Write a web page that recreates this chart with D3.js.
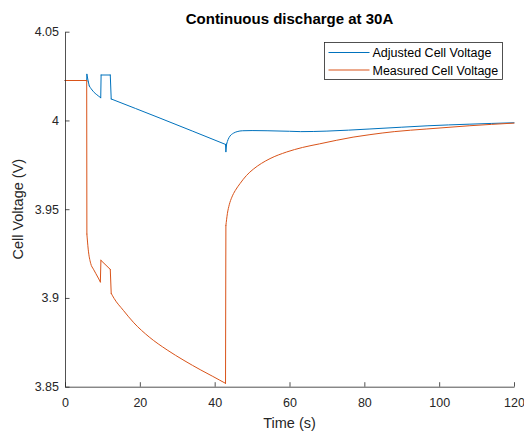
<!DOCTYPE html>
<html><head><meta charset="utf-8">
<script src="https://cdn.jsdelivr.net/npm/d3@7"></script>
<style>body{margin:0;background:#fff;}svg{display:block;font-family:"Liberation Sans",Arial,sans-serif;}</style>
</head><body><svg id="c" width="524" height="433"></svg>
<script>
const title = "Continuous discharge at 30A";
const xLabel = "Time (s)";
const yLabel = "Cell Voltage (V)";
const seriesNames = ["Adjusted Cell Voltage", "Measured Cell Voltage"];
const seriesColors = ["#0072BD", "#D95319"];
const xTicks = [0, 20, 40, 60, 80, 100, 120];
const yTicks = [3.85, 3.9, 3.95, 4, 4.05];
const adjustedTime = [0, 5.8, 5.85, 6.2, 6.5, 7.0, 7.6, 8.5, 9.55, 9.65, 12.1, 12.35, 25.4, 42.9, 43.0, 43.2, 43.6, 44.1, 45, 46, 47.5, 50, 54, 60, 63, 70, 81.5, 90, 97, 108, 120];
const adjustedV = [4.0225, 4.0225, 4.026, 4.022, 4.0194, 4.0178, 4.0162, 4.0145, 4.0128, 4.0256, 4.0256, 4.0121, 4.0013, 3.9865, 3.9824, 3.9868, 3.9893, 3.9912, 3.9928, 3.9937, 3.9942, 3.9943, 3.9942, 3.9939, 3.9937, 3.9940, 3.9952, 3.9962, 3.9970, 3.9979, 3.9987];
const measuredTime = [0, 5.8, 5.85, 6.2, 6.86, 7.6, 8.2, 8.9, 9.45, 9.6, 12.1, 12.35, 13.1, 15.6, 18.4, 22.5, 27.3, 31.8, 36.3, 39.5, 42.9, 43.0, 43.4, 43.9, 44.6, 45.5, 46.8, 48.5, 50.3, 52.5, 54.8, 59.2, 63.5, 68, 77, 81.5, 88, 96.7, 108, 120];
const measuredV = [4.0225, 4.0225, 3.936, 3.9275, 3.9195, 3.9162, 3.9139, 3.9112, 3.9090, 3.9212, 3.9161, 3.9026, 3.8998, 3.8930, 3.8860, 3.8780, 3.8707, 3.8648, 3.8594, 3.8558, 3.8519, 3.9408, 3.9475, 3.9525, 3.9568, 3.9605, 3.9645, 3.9690, 3.9725, 3.9758, 3.9785, 3.9822, 3.9848, 3.9868, 3.9906, 3.9920, 3.9937, 3.9952, 3.9970, 3.9985];

const svg = d3.select("#c");
const L = 65, R = 514, T = 31.7, B = 386.7;
const x = d3.scaleLinear().domain([0, 120]).range([L, R]);
const y = d3.scaleLinear().domain([3.85, 4.05]).range([B, T]);
const axisColor = "#262626";

const smooth = d3.line().x(d => x(d[0])).y(d => y(d[1])).curve(d3.curveMonotoneX);
const straight = d3.line().x(d => x(d[0])).y(d => y(d[1]));
const series = [d3.zip(adjustedTime, adjustedV), d3.zip(measuredTime, measuredV)];
series.forEach((s, i) => {
  // split into continuous pieces; near-instant steps are drawn straight
  const pieces = [], jumps = [];
  let cur = [s[0]];
  for (let k = 1; k < s.length; k++) {
    if (s[k][0] - s[k - 1][0] <= 0.3) {
      jumps.push([s[k - 1], s[k]]);
      pieces.push(cur);
      cur = [s[k]];
    } else cur.push(s[k]);
  }
  pieces.push(cur);
  const g = svg.append("g").attr("fill", "none").attr("stroke", seriesColors[i])
    .attr("stroke-width", 1).attr("stroke-linejoin", "round").attr("stroke-linecap", "round");
  pieces.filter(p => p.length > 1).forEach(p => g.append("path").attr("d", smooth(p)));
  jumps.forEach(j => g.append("path").attr("d", straight(j)));
});

const gx = svg.append("g").attr("transform", `translate(0,${B})`)
  .call(d3.axisBottom(x).tickValues(xTicks).tickFormat(d3.format("d")).tickSizeInner(-4.5).tickSizeOuter(0).tickPadding(11));
const gy = svg.append("g").attr("transform", `translate(${L},0)`)
  .call(d3.axisLeft(y).tickValues(yTicks).tickFormat(d => String(+d.toFixed(2))).tickSizeInner(-4.5).tickSizeOuter(0).tickPadding(6));
[gx, gy].forEach(g => {
  g.select(".domain").attr("stroke", axisColor).attr("stroke-width", 0.8);
  g.selectAll(".tick line").attr("stroke", axisColor).attr("stroke-width", 0.8);
  g.selectAll(".tick text").attr("fill", axisColor).style("font-size", "12.5px").style("font-family", "'Liberation Sans',Arial,sans-serif");
});

svg.append("text").attr("x", (L + R) / 2).attr("y", 24).attr("text-anchor", "middle")
  .style("font-size", "15px").style("font-weight", "bold").attr("fill", "#000").text(title);
svg.append("text").attr("x", (L + R) / 2).attr("y", 428).attr("text-anchor", "middle")
  .style("font-size", "14.5px").attr("fill", axisColor).text(xLabel);
svg.append("text").attr("transform", `translate(23,${(T + B) / 2}) rotate(-90)`).attr("text-anchor", "middle")
  .style("font-size", "14.5px").attr("fill", axisColor).text(yLabel);

const lg = svg.append("g");
lg.append("rect").attr("x", 324.5).attr("y", 42.5).attr("width", 178).attr("height", 37)
  .attr("fill", "#fff").attr("stroke", axisColor).attr("stroke-width", 0.8);
seriesNames.forEach((n, i) => {
  const yy = 52.5 + i * 17.5;
  lg.append("line").attr("x1", 328.5).attr("x2", 369.5).attr("y1", yy).attr("y2", yy)
    .attr("stroke", seriesColors[i]).attr("stroke-width", 1);
  lg.append("text").attr("x", 372.5).attr("y", yy + 4.5).style("font-size", "12.5px").attr("fill", "#000").text(n);
});
</script></body></html>
